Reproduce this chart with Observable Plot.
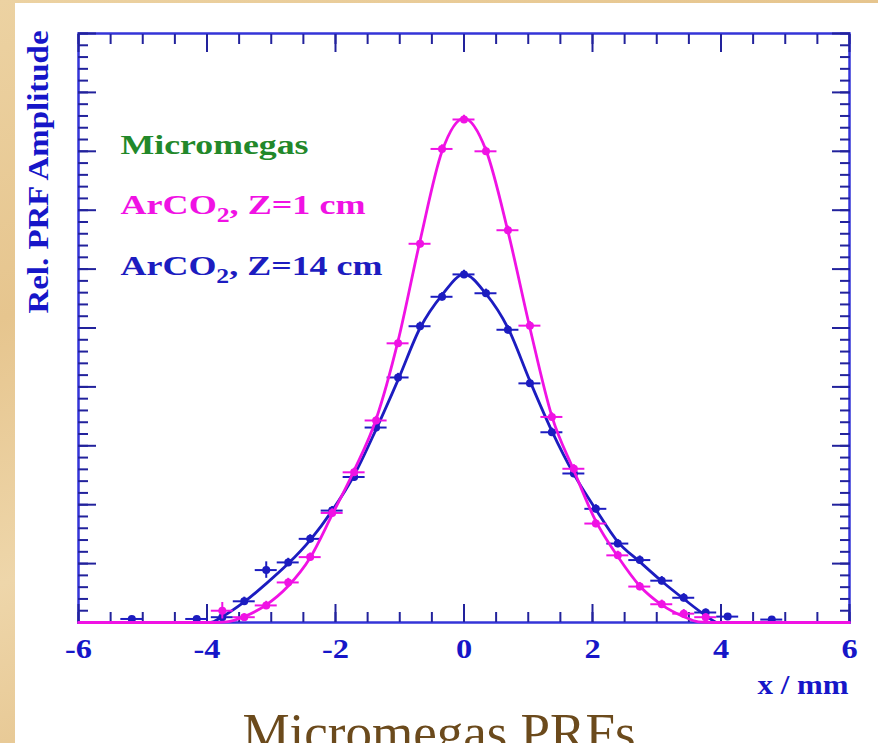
<!DOCTYPE html>
<html>
<head>
<meta charset="utf-8">
<script src="https://cdn.jsdelivr.net/npm/d3@7"></script>
<script src="https://cdn.jsdelivr.net/npm/@observablehq/plot@0.6"></script>
<style>
  html, body { margin: 0; padding: 0; }
  body {
    width: 878px; height: 743px; overflow: hidden; position: relative;
    background: linear-gradient(160deg, #ecd2a2 0%, #e6c58e 30%, #eed6aa 55%, #e4c28a 80%, #ebcf9c 100%);
  }
  #panel { position: absolute; left: 15px; top: 3px; width: 863px; height: 740px; background: #ffffff; }
  #chart svg { display: block; }
  #caption {
    font-family: "Liberation Serif", "Times New Roman", serif; font-size: 53px; line-height: 1;
    color: #6b4a1c; text-align: center; margin-top: 3px; padding-right: 15px; white-space: nowrap;
  }
</style>
</head>
<body>
<div id="panel">
  <div id="chart"></div>
  <div id="caption">Micromegas PRFs</div>
</div>
<script>
// ---------- data ----------
// Measured points, ArCO2 Z = 1 cm (x in mm, relative PRF amplitude)
const z1X = [-3.762,-3.42,-3.078,-2.736,-2.394,-2.052,-1.71,-1.368,-1.026,-0.684,-0.342,0,
             0.342,0.684,1.026,1.368,1.71,2.052,2.394,2.736,3.078,3.42,3.762];
const z1Y = [0.020,0.009,0.029,0.068,0.111,0.186,0.255,0.343,0.474,0.643,0.804,0.854,
             0.800,0.666,0.504,0.349,0.261,0.168,0.114,0.061,0.031,0.015,0.009];
const z1Err = [0.014,0.006,0.007,0.007,0.007,0.007,0.007,0.007,0.007,0.007,0.007,0.007,
               0.007,0.007,0.007,0.007,0.007,0.007,0.007,0.007,0.007,0.007,0.006];

// Measured points, ArCO2 Z = 14 cm
const z14X = [-5.17,-4.16,-3.762,-3.42,-3.078,-2.736,-2.394,-2.052,-1.71,-1.368,-1.026,-0.684,-0.342,0,
              0.342,0.684,1.026,1.368,1.71,2.052,2.394,2.736,3.078,3.42,3.762,4.104,4.79];
const z14Y = [0.006,0.006,0.009,0.036,0.089,0.102,0.142,0.190,0.247,0.331,0.416,0.503,0.553,0.591,
              0.559,0.497,0.406,0.323,0.253,0.193,0.134,0.106,0.071,0.042,0.017,0.010,0.005];
const z14Err = [0.003,0.003,0.005,0.007,0.014,0.007,0.007,0.007,0.007,0.007,0.007,0.007,0.007,0.007,
                0.007,0.007,0.007,0.007,0.007,0.007,0.007,0.007,0.007,0.007,0.006,0.005,0.003];

// Half width of the horizontal error bar (half the pad step), mm
const binHalfWidth = 0.171;

// Fitted curves
const z1FitX = [-6,-4.2,-3.9,-3.7,-3.42,-3.078,-2.736,-2.394,-2.052,-1.71,-1.368,-1.026,-0.684,-0.342,0,
                0.342,0.684,1.026,1.368,1.71,2.052,2.394,2.736,3.078,3.42,3.65,3.9,4.2,6];
const z1FitY = [0,0,0,0.001,0.010,0.030,0.062,0.110,0.183,0.258,0.345,0.478,0.648,0.800,0.856,
                0.802,0.664,0.500,0.350,0.258,0.172,0.112,0.062,0.030,0.010,0.001,0,0,0];
const z14FitX = [-6,-4.2,-3.95,-3.762,-3.42,-3.078,-2.736,-2.394,-2.052,-1.71,-1.368,-1.026,-0.684,-0.342,0,
                 0.342,0.684,1.026,1.368,1.71,2.052,2.394,2.736,3.078,3.42,3.762,3.95,4.2,6];
const z14FitY = [0,0,0,0.010,0.035,0.066,0.100,0.140,0.190,0.250,0.328,0.412,0.500,0.556,0.591,
                 0.558,0.500,0.410,0.325,0.252,0.192,0.137,0.103,0.070,0.040,0.012,0,0,0];

// Axis ticks and labels
const xMajorTicks = [-6,-4,-2,0,2,4,6];
const xMinorTicks = [-6,-5.5,-5,-4.5,-4,-3.5,-3,-2.5,-2,-1.5,-1,-0.5,0,0.5,1,1.5,2,2.5,3,3.5,4,4.5,5,5.5,6];
const yMajorTicks = [0,0.1,0.2,0.3,0.4,0.5,0.6,0.7,0.8,0.9,1];
const yMinorTicks = d3.range(0, 51).map(i => i / 50);

const xLabel = "x / mm";
const yLabel = "Rel. PRF Amplitude";
const legendLabels = ["Micromegas", "ArCO₂, Z=1 cm", "ArCO₂, Z=14 cm"];

// ---------- styles ----------
const frameColor = "#3434d8";
const tickColor = "#22229c";
const textBlue = "#1616c8";
const blue = "#1c1cc0";
const magenta = "#f012e4";
const green = "#22882a";
const legendColors = [green, magenta, blue];
const serif = "Liberation Serif, Times New Roman, serif";

const toRows = (xs, ys, es) => xs.map((x, i) => ({x, y: ys[i], e: es ? es[i] : 0}));
const z1 = toRows(z1X, z1Y, z1Err);
const z14 = toRows(z14X, z14Y, z14Err);
const z1Fit = toRows(z1FitX, z1FitY);
const z14Fit = toRows(z14FitX, z14FitY);

function seriesMarks(rows, fit, color) {
  return [
    Plot.line(fit, {x: "x", y: "y", stroke: color, strokeWidth: 2.8, curve: "monotone-x"}),
    Plot.ruleY(rows, {x1: d => d.x - binHalfWidth, x2: d => d.x + binHalfWidth, y: "y", stroke: color, strokeWidth: 2}),
    Plot.ruleX(rows, {x: "x", y1: d => d.y - d.e, y2: d => d.y + d.e, stroke: color, strokeWidth: 2}),
    Plot.dot(rows, {x: "x", y: "y", r: 4, fill: color, stroke: "none"})
  ];
}

const tickStyle = {fill: "none", stroke: tickColor, strokeWidth: 2, label: null};

const chart = Plot.plot({
  width: 863,
  height: 700,
  marginLeft: 63,
  marginRight: 29,
  marginTop: 30,
  marginBottom: 81,
  style: {background: "#ffffff", fontFamily: serif, overflow: "visible"},
  x: {domain: [-6, 6], axis: null},
  y: {domain: [0, 1], axis: null},
  marks: [
    Plot.frame({stroke: frameColor, strokeWidth: 2.5}),
    Plot.axisX(xMajorTicks, {anchor: "bottom", tickSize: -18, ...tickStyle}),
    Plot.axisX(xMinorTicks, {anchor: "bottom", tickSize: -10, ...tickStyle}),
    Plot.axisX(xMajorTicks, {anchor: "top", tickSize: -18, ...tickStyle}),
    Plot.axisX(xMinorTicks, {anchor: "top", tickSize: -10, ...tickStyle}),
    Plot.axisY(yMajorTicks, {anchor: "left", tickSize: -18, ...tickStyle}),
    Plot.axisY(yMinorTicks, {anchor: "left", tickSize: -10, ...tickStyle}),
    Plot.axisY(yMajorTicks, {anchor: "right", tickSize: -18, ...tickStyle}),
    Plot.axisY(yMinorTicks, {anchor: "right", tickSize: -10, ...tickStyle}),
    Plot.axisX(xMajorTicks, {
      anchor: "bottom", tickSize: 0, tickPadding: 16, label: null,
      tickFormat: d => String(d), fill: textBlue, fontSize: 27, fontWeight: "bold", fontFamily: serif
    }),
    ...seriesMarks(z14, z14Fit, blue),
    ...seriesMarks(z1, z1Fit, magenta),
    ...legendLabels.map((t, i) => Plot.text([t], {
      frameAnchor: "top-left", textAnchor: "start", lineAnchor: "bottom",
      dx: 42, dy: 120 + i * 60.5, fill: legendColors[i],
      fontSize: 28, fontWeight: "bold", fontFamily: serif
    })),
    Plot.text([xLabel], {
      frameAnchor: "bottom-right", textAnchor: "end", lineAnchor: "bottom",
      dx: -1, dy: 71, fill: textBlue, fontSize: 28, fontWeight: "bold", fontFamily: serif
    }),
    Plot.text([yLabel], {
      frameAnchor: "top-left", textAnchor: "end", lineAnchor: "bottom", rotate: -90,
      dx: -31, dy: -3, fill: textBlue, fontSize: 30, fontWeight: "bold", fontFamily: serif
    })
  ]
});

document.getElementById("chart").append(chart);

// Subscript 2 in CO2 and slightly wider bold lettering like the original
const svg = d3.select(chart);
svg.selectAll("text").each(function() {
  const t = this.textContent;
  if (t.includes("₂")) {
    const [a, b] = t.split("₂");
    const sel = d3.select(this);
    sel.text(null);
    sel.append("tspan").text(a);
    sel.append("tspan").attr("font-size", "20px").attr("dy", 8).text("2");
    sel.append("tspan").attr("dy", -8).text(b);
  }
});
const targetWidths = {
  "Micromegas": 188,
  "ArCO2, Z=1 cm": 245,
  "ArCO2, Z=14 cm": 262,
  "x / mm": 91,
  "Rel. PRF Amplitude": 283
};
svg.selectAll("text").each(function() {
  const t = this.textContent;
  let w = targetWidths[t];
  if (w == null && /^-?\d+$/.test(t)) w = this.getComputedTextLength() * 1.2;
  if (w) {
    this.setAttribute("textLength", w);
    this.setAttribute("lengthAdjust", "spacingAndGlyphs");
  }
});
</script>
</body>
</html>
